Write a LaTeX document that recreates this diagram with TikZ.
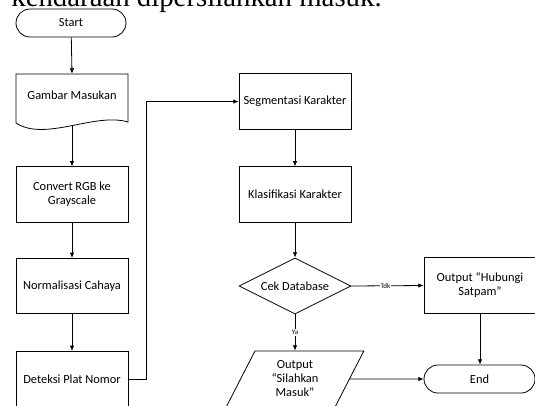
\documentclass[tikz,border=0pt]{standalone}
\usepackage{fontspec}
\setmainfont{Carlito}
\newfontfamily\serifface{Liberation Serif}
\usetikzlibrary{shapes.geometric,arrows.meta}
\begin{document}
\begin{tikzpicture}[x=0.75pt,y=-0.75pt,
  every node/.style={font=\fontsize{9.3}{10.5}\selectfont, align=center, inner sep=1pt},
  proc/.style={draw, minimum width=84pt, minimum height=41.5pt},
  term/.style={draw, rounded corners=10.5pt, minimum height=21pt},
  flow/.style={-{Latex[length=4pt,width=3.4pt]}},
  lbl/.style={font=\fontsize{5.2}{6}\selectfont, fill=white, inner sep=0.6pt},
  line width=0.6pt]
\useasboundingbox (0,0) rectangle (535,405);
\clip (0,0) rectangle (535,405);

% caption line running above the chart
\node[anchor=base west, inner sep=0pt, font=\serifface\fontsize{21.6}{25}\selectfont] (cap) at (11,6) {kendaraan dipersilahkan masuk.};

% left column
\node[term, minimum width=82.5pt] (start) at (71,23) {Start};
\draw (16,74) -- (128,74) -- (128,122) .. controls (95,112) and (45,142) .. (16,123) -- cycle;
\node[minimum width=84pt, minimum height=31.5pt] (gam) at (72,95) {Gambar Masukan};
\coordinate (gamb) at (72,126);
\node[proc] (conv) at (72,194.5) {Convert RGB ke\\Grayscale};
\node[proc] (norm) at (72,286) {Normalisasi Cahaya};
\node[proc] (det) at (72,379) {Deteksi Plat Nomor};

% middle column
\node[proc] (seg) at (295,101.5) {Segmentasi Karakter};
\node[proc] (kla) at (295,194.5) {Klasifikasi Karakter};
\node[draw, diamond, aspect=2, inner sep=0pt, minimum width=84pt, minimum height=42pt] (cek) at (295,286) {Cek Database};
\node[draw, trapezium, trapezium left angle=65, trapezium right angle=115, trapezium stretches=true,
      inner sep=0pt, minimum width=103.5pt, minimum height=42pt] (out) at (295,379) {Output\\“Silahkan\\Masuk”};

% right column
\node[proc] (hub) at (480,285.5) {Output “Hubungi\\Satpam”};
\node[term, minimum width=83.25pt] (end) at (479.5,379) {End};

% connectors
\draw[flow] (start) -- (gam.north);
\draw[flow] (gamb) -- (conv.north);
\draw[flow] (conv) -- (norm);
\draw[flow] (norm) -- (det);
\draw[flow] (det.east) -- ++(18,0) |- (seg.west);
\draw[flow] (seg) -- (kla);
\draw[flow] (kla) -- (cek);
\draw[flow] (cek.south) -- node[lbl] {Ya} (cek.south |- out.north);
\draw[flow] (cek.east) -- node[lbl, pos=0.47] {Tdk} (hub.west);
\draw[flow] (hub.south) -- (hub.south |- end.north);
\draw[flow] (out.east) -- (end.west);
\end{tikzpicture}
\end{document}
